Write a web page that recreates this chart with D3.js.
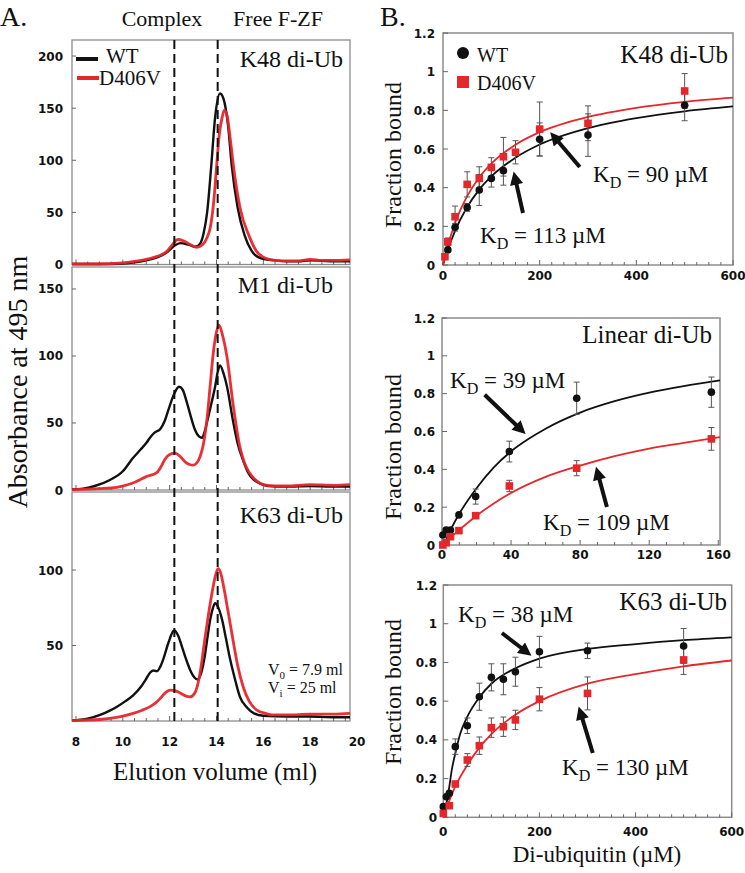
<!DOCTYPE html>
<html><head><meta charset="utf-8">
<script src="https://cdn.jsdelivr.net/npm/d3@7"></script>
<style>body{margin:0;background:#fff}svg{display:block}</style>
</head><body>
<svg id="c" width="745" height="873"></svg>
<script>
// ---------------- DATA: panel A (SEC chromatograms, [ml, absorbance]) ----------------
const volTicks = [8, 10, 12, 14, 16, 18, 20];
const complexVol = 12.2, freeVol = 14.05;
const k48Ticks = [0, 50, 100, 150, 200];
const m1Ticks = [0, 50, 100, 150];
const k63Ticks = [50, 100];

const k48WT = [[7.83,0.5],[9,0.5],[10,1],[10.5,2],[11,4],[11.5,7],[11.9,12],[12.2,18],[12.45,20.5],[12.8,19],[13.1,17],[13.3,20],[13.45,30],[13.6,50],[13.77,93],[13.94,141],[14.15,164],[14.3,159],[14.5,132],[14.65,95],[14.9,55],[15.2,28],[15.5,13],[15.9,6],[16.5,4],[17,3],[17.5,3],[18,4],[18.5,3.5],[19,3],[19.7,3]];
const k48D = [[7.83,0.5],[9,0.5],[10,1.5],[10.5,3],[11,5],[11.5,8],[11.9,13],[12.15,20],[12.35,24],[12.6,22.5],[12.9,19],[13.15,16.5],[13.4,19],[13.6,26],[13.73,35],[13.88,60],[14.0,93],[14.12,125],[14.24,141],[14.33,148],[14.45,143],[14.6,118],[14.75,90],[15.0,55],[15.4,27],[15.7,13],[16.1,6],[16.5,4],[17,3.5],[17.5,3.5],[18,5],[18.5,4],[19,4],[19.7,4.5]];
const m1WT = [[7.83,0.5],[8.3,1],[8.8,3],[9.45,7.5],[10.0,14],[10.44,24],[10.75,30],[11.0,35],[11.2,40],[11.37,43],[11.6,45.5],[11.8,52],[11.95,60],[12.2,72],[12.4,77],[12.55,75],[12.74,65],[12.9,55],[13.08,45],[13.25,40],[13.38,39],[13.5,44],[13.64,54],[13.8,66],[13.94,77],[14.05,88],[14.15,93],[14.3,87],[14.45,77],[14.7,52],[14.9,35],[15.14,22],[15.35,13],[15.6,7.5],[15.9,4.5],[16.2,3],[17,2.5],[18,3],[19,2.5],[19.7,2.5]];
const m1D = [[7.83,0.3],[9,1],[9.75,2],[10.4,5],[11.0,10],[11.45,13],[11.65,18],[11.8,23],[12.0,26.5],[12.23,27.5],[12.45,25],[12.66,21],[12.85,19],[13.0,18.5],[13.15,20],[13.3,25],[13.45,35],[13.6,54],[13.73,78],[13.86,102],[14.0,118],[14.11,123],[14.25,116],[14.45,99],[14.7,65],[15.0,32],[15.2,20],[15.4,13],[15.7,7],[16.0,4],[16.5,3],[17,3],[18,4],[19,3.5],[19.7,4]];
const k63WT = [[7.83,0.3],[8.5,1.5],[9.03,4],[9.4,6.5],[9.75,9.5],[10.1,13],[10.44,17],[10.74,22],[11.0,28],[11.16,32],[11.3,33.5],[11.46,33],[11.6,36],[11.73,41],[11.95,52],[12.19,60],[12.35,57],[12.53,49],[12.7,41],[12.87,34],[13.05,29],[13.2,27.5],[13.35,32],[13.5,43],[13.62,56],[13.73,67],[13.85,75],[13.94,78],[14.05,76],[14.24,67],[14.4,55],[14.58,41],[14.8,27],[15.0,16],[15.3,9],[15.6,5],[16.0,3.5],[17,3],[18,3],[19,2.5],[19.7,2.5]];
const k63D = [[7.83,0.3],[9.03,1],[9.8,2.5],[10.44,5],[10.8,7],[11.16,9.5],[11.4,12],[11.6,15],[11.8,18.5],[12.02,20.5],[12.25,20],[12.45,18.5],[12.7,16.5],[12.87,16],[13.05,18],[13.17,22.5],[13.3,32],[13.5,54],[13.65,70],[13.81,85],[13.95,96],[14.07,101],[14.18,98],[14.28,91],[14.5,72],[14.7,54],[14.9,37],[15.14,22.5],[15.4,13],[15.74,7],[16.1,5],[16.4,4],[17,4],[18,4.5],[19,4.5],[19.7,5]];

// ---------------- DATA: panel B (binding) ----------------
const fracTicks = [0, 0.2, 0.4, 0.6, 0.8, 1, 1.2];
const concTicks600 = [0, 200, 400, 600];
const concTicks160 = [0, 40, 80, 120, 160];

const k48WTConc = [10,25,50,75,100,125,200,300,500];
const k48WTFrac = [0.078,0.195,0.298,0.388,0.448,0.488,0.65,0.672,0.826];
const k48WTErr  = [0.01,0.02,0.02,0.08,0.045,0.075,0.085,0.11,0.08];
const k48DConc = [4,10,25,50,75,100,125,150,200,300,500];
const k48DFrac = [0.043,0.12,0.25,0.417,0.448,0.505,0.56,0.583,0.703,0.733,0.90];
const k48DErr  = [0.01,0.02,0.055,0.065,0.06,0.05,0.1,0.06,0.14,0.09,0.09];
const k48WTFitX = [0,10,25,50,75,100,150,200,300,400,500,600];
const k48WTFitY = [0,0.08,0.177,0.30,0.39,0.458,0.555,0.623,0.708,0.76,0.795,0.82];
const k48DFitX = [0,10,25,50,75,100,150,200,300,400,500,600];
const k48DFitY = [0,0.1,0.217,0.356,0.453,0.524,0.622,0.687,0.766,0.813,0.844,0.866];

const linConc = [0.5,2.4,4.9,9.8,19.5,39,78,156];
const linWTFrac = [0.053,0.079,0.079,0.159,0.256,0.494,0.776,0.808];
const linWTErr  = [0,0,0,0.01,0.04,0.055,0.085,0.08];
const linDFrac = [0.0,0.012,0.044,0.076,0.155,0.312,0.406,0.561];
const linDErr  = [0,0,0,0.01,0.015,0.03,0.04,0.06];
const linWTFitX = [2.5,5,10,20,30,40,50,60,80,100,120,140,161];
const linWTFitY = [0.03,0.08,0.165,0.30,0.41,0.495,0.56,0.615,0.70,0.76,0.805,0.84,0.87];
const linDFitX = [0,5,10,20,30,40,60,80,100,120,140,161];
const linDFitY = [0,0.04,0.08,0.155,0.22,0.275,0.36,0.42,0.47,0.51,0.54,0.57];

const k63WTConc = [0,6.25,12.5,25,50,75,100,125,150,200,300,500];
const k63WTFrac = [0.055,0.106,0.124,0.365,0.473,0.623,0.723,0.713,0.752,0.855,0.86,0.885];
const k63WTErr  = [0,0,0.01,0.04,0.04,0.07,0.07,0.08,0.075,0.08,0.04,0.09];
const k63DConc = [0,12.5,25,50,75,100,125,150,200,300,500];
const k63DFrac = [0.02,0.06,0.172,0.296,0.37,0.463,0.468,0.503,0.61,0.64,0.813];
const k63DErr  = [0,0,0.01,0.033,0.045,0.05,0.05,0.05,0.06,0.085,0.075];
const k63WTFitX = [3,8,12,18,25,35,50,75,100,150,200,300,400,500,600];
const k63WTFitY = [0.03,0.09,0.15,0.25,0.33,0.43,0.52,0.62,0.69,0.77,0.82,0.87,0.895,0.915,0.93];
const k63DFitX = [0,10,25,50,75,100,150,200,300,400,500,600];
const k63DFitY = [0,0.07,0.16,0.27,0.36,0.43,0.53,0.60,0.69,0.74,0.78,0.81];

// ---------------- DRAWING ----------------
const svg = d3.select("#c");
const serif = "'Liberation Serif','Times New Roman',Times,serif";
const tickFont = "'DejaVu Sans','Liberation Sans',Arial,sans-serif";
const BLACK = "#111", RED = "#e5262b", FRAME = "#8c8c8c";

function txt(x, y, s, size, anchor, fam, weight) {
  return svg.append("text").attr("x", x).attr("y", y).text(s)
    .attr("font-size", size).attr("font-family", fam || serif)
    .attr("text-anchor", anchor || "start").attr("font-weight", weight || "normal").attr("fill", "#111");
}
function kdLabel(x, y, val, size) {
  const t = svg.append("text").attr("x", x).attr("y", y).attr("font-family", serif)
    .attr("font-size", size).attr("fill", "#111");
  t.append("tspan").text("K");
  t.append("tspan").text("D").attr("font-size", size * 0.7).attr("dy", size * 0.25);
  t.append("tspan").text(" = " + val + " \u00B5M").attr("dy", -size * 0.25);
}

// arrowhead marker
const defs = svg.append("defs");
defs.append("marker").attr("id", "ah").attr("viewBox", "0 0 10 10").attr("refX", 2).attr("refY", 5)
  .attr("markerWidth", 3.8).attr("markerHeight", 3.3).attr("orient", "auto")
  .append("path").attr("d", "M0,0 L10,5 L0,10 z").attr("fill", "#111");

// ===== Panel A =====
txt(0, 26, "A.", 28);
txt(162, 26, "Complex", 22, "middle");
txt(278, 26, "Free F-ZF", 22, "middle");

const xA = d3.scaleLinear().domain([7.83, 19.7]).range([72, 350]);
const panelsA = [
  { wt: k48WT, d: k48D, ticks: k48Ticks, top: 40, bottom: 264.5, max: 215.4, label: "K48 di-Ub", lx: 343, ly: 67 },
  { wt: m1WT, d: m1D, ticks: m1Ticks, top: 267, bottom: 490, max: 166.4, label: "M1 di-Ub", lx: 333, ly: 293 },
  { wt: k63WT, d: k63D, ticks: k63Ticks, top: 492, bottom: 721, max: 151.7, label: "K63 di-Ub", lx: 343, ly: 523 }
];
panelsA.forEach(p => {
  const y = d3.scaleLinear().domain([0, p.max]).range([p.bottom, p.top]);
  svg.append("rect").attr("x", xA.range()[0]).attr("y", p.top)
    .attr("width", xA.range()[1] - xA.range()[0]).attr("height", p.bottom - p.top)
    .attr("fill", "none").attr("stroke", FRAME).attr("stroke-width", 1.3);
  d3.range(8, 19.75, 0.5).forEach(v => {
    svg.append("line").attr("x1", xA(v)).attr("x2", xA(v)).attr("y1", p.bottom)
      .attr("y2", p.bottom - (v % 2 === 0 ? 5 : 3)).attr("stroke", "#666").attr("stroke-width", 1);
  });
  p.ticks.forEach(t => {
    txt(63, y(t) + 4.5, String(t), 12, "end", tickFont, "bold");
    svg.append("line").attr("x1", 72).attr("x2", 76).attr("y1", y(t)).attr("y2", y(t)).attr("stroke", "#666");
  });
  const ln = d3.line().x(d => xA(d[0])).y(d => y(d[1])).curve(d3.curveMonotoneX);
  svg.append("path").datum(p.wt).attr("d", ln).attr("fill", "none").attr("stroke", BLACK).attr("stroke-width", 2.4);
  svg.append("path").datum(p.d).attr("d", ln).attr("fill", "none").attr("stroke", RED).attr("stroke-width", 2.8).attr("stroke-opacity", 0.95);
  txt(p.lx, p.ly, p.label, 24, "end");
});
[complexVol, freeVol].forEach(v => {
  svg.append("line").attr("x1", xA(v)).attr("x2", xA(v)).attr("y1", 40).attr("y2", 721)
    .attr("stroke", "#111").attr("stroke-width", 2).attr("stroke-dasharray", "9,5");
});
svg.append("line").attr("x1", 76).attr("x2", 98).attr("y1", 59).attr("y2", 59).attr("stroke", BLACK).attr("stroke-width", 4);
txt(106, 63, "WT", 21);
svg.append("line").attr("x1", 77).attr("x2", 99).attr("y1", 78).attr("y2", 78).attr("stroke", RED).attr("stroke-width", 4);
txt(99, 85, "D406V", 21);
volTicks.forEach(v => txt(xA(v), 746, String(v), 12, "middle", tickFont, "bold"));
txt(215, 780, "Elution volume (ml)", 25, "middle");
svg.append("text").attr("transform", "translate(27,382) rotate(-90)").attr("text-anchor", "middle")
  .attr("font-family", serif).attr("font-size", 28).attr("fill", "#111").text("Absorbance at 495 nm");
(function () {
  const t = svg.append("text").attr("x", 268).attr("y", 675).attr("font-family", serif).attr("font-size", 16).attr("fill", "#111");
  t.append("tspan").text("V"); t.append("tspan").text("0").attr("font-size", 11).attr("dy", 4);
  t.append("tspan").text(" = 7.9 ml").attr("dy", -4);
  const u = svg.append("text").attr("x", 268).attr("y", 693).attr("font-family", serif).attr("font-size", 16).attr("fill", "#111");
  u.append("tspan").text("V"); u.append("tspan").text("i").attr("font-size", 11).attr("dy", 4);
  u.append("tspan").text(" = 25 ml").attr("dy", -4);
})();

// ===== Panel B =====
txt(380, 26, "B.", 28);

function bindPanel(o) {
  const x = d3.scaleLinear().domain(o.xdom).range(o.xr);
  const y = d3.scaleLinear().domain([0, 1.2]).range(o.yr);
  svg.append("rect").attr("x", o.xr[0]).attr("y", o.yr[1]).attr("width", o.xr[1] - o.xr[0])
    .attr("height", o.yr[0] - o.yr[1]).attr("fill", "none").attr("stroke", FRAME).attr("stroke-width", 1.5);
  d3.range(0, o.xdom[1] + 1e-6, o.minor).forEach(v => {
    const major = o.xticks.includes(v);
    svg.append("line").attr("x1", x(v)).attr("x2", x(v)).attr("y1", o.yr[0]).attr("y2", o.yr[0] - (major ? 5 : 3))
      .attr("stroke", "#666");
  });
  o.xticks.forEach(v => txt(x(v), o.xlabY, String(v), 12, "middle", tickFont, "bold"));
  fracTicks.forEach(v => {
    svg.append("line").attr("x1", o.xr[0]).attr("x2", o.xr[0] + 5).attr("y1", y(v)).attr("y2", y(v)).attr("stroke", "#666");
    txt(o.ylabX, y(v) + 4.5, String(v), 12, "end", tickFont, "bold");
  });
  svg.append("text").attr("transform", `translate(401,${o.ycap}) rotate(-90)`).attr("text-anchor", "middle")
    .attr("font-family", serif).attr("font-size", 24).attr("fill", "#111").text("Fraction bound");
  const ln = d3.line().x(d => x(d[0])).y(d => y(d[1])).curve(d3.curveMonotoneX);
  svg.append("path").datum(d3.zip(o.wtFitX, o.wtFitY)).attr("d", ln).attr("fill", "none").attr("stroke", BLACK).attr("stroke-width", 1.8);
  svg.append("path").datum(d3.zip(o.dFitX, o.dFitY)).attr("d", ln).attr("fill", "none").attr("stroke", RED).attr("stroke-width", 1.8);
  function err(cs, fs, es) {
    cs.forEach((c, i) => {
      if (es[i] < 0.005) return;
      const g = svg.append("g").attr("stroke", "#555").attr("stroke-width", 1);
      g.append("line").attr("x1", x(c)).attr("x2", x(c)).attr("y1", y(fs[i] - es[i])).attr("y2", y(fs[i] + es[i]));
      g.append("line").attr("x1", x(c) - 3).attr("x2", x(c) + 3).attr("y1", y(fs[i] - es[i])).attr("y2", y(fs[i] - es[i]));
      g.append("line").attr("x1", x(c) - 3).attr("x2", x(c) + 3).attr("y1", y(fs[i] + es[i])).attr("y2", y(fs[i] + es[i]));
    });
  }
  err(o.wtC, o.wtF, o.wtE);
  err(o.dC, o.dF, o.dE);
  o.wtC.forEach((c, i) => svg.append("circle").attr("cx", x(c)).attr("cy", y(o.wtF[i])).attr("r", 3.8).attr("fill", BLACK));
  o.dC.forEach((c, i) => svg.append("rect").attr("x", x(c) - 3.8).attr("y", y(o.dF[i]) - 3.8).attr("width", 7.6).attr("height", 7.6).attr("fill", RED));
  txt(o.tx, o.ty, o.title, 25, "end");
  o.arrows.forEach(a => {
    svg.append("line").attr("x1", x(a[0])).attr("y1", y(a[1])).attr("x2", x(a[2])).attr("y2", y(a[3]))
      .attr("stroke", "#111").attr("stroke-width", 4).attr("marker-end", "url(#ah)");
  });
  o.kds.forEach(k => kdLabel(k[0], k[1], k[2], 23));
}

bindPanel({
  xdom: [0, 600], xr: [443, 733], yr: [265, 33], minor: 25, xticks: concTicks600, xlabY: 280, ylabX: 435, ycap: 155,
  wtC: k48WTConc, wtF: k48WTFrac, wtE: k48WTErr, dC: k48DConc, dF: k48DFrac, dE: k48DErr,
  wtFitX: k48WTFitX, wtFitY: k48WTFitY, dFitX: k48DFitX, dFitY: k48DFitY,
  title: "K48 di-Ub", tx: 728, ty: 63,
  arrows: [[283, 0.507, 236, 0.645], [165.5, 0.269, 151, 0.43]],
  kds: [[593, 182, "90"], [480, 243, "113"]]
});
bindPanel({
  xdom: [0, 161], xr: [442, 720], yr: [545, 318], minor: 10, xticks: concTicks160, xlabY: 559, ylabX: 435, ycap: 447,
  wtC: linConc, wtF: linWTFrac, wtE: linWTErr, dC: linConc, dF: linDFrac, dE: linDErr,
  wtFitX: linWTFitX, wtFitY: linWTFitY, dFitX: linDFitX, dFitY: linDFitY,
  title: "Linear di-Ub", tx: 712, ty: 343,
  arrows: [[24.7, 0.794, 44, 0.625], [95.5, 0.201, 90.8, 0.36]],
  kds: [[450, 388, "39"], [543, 530, "109"]]
});
bindPanel({
  xdom: [0, 600], xr: [443.3, 731.7], yr: [817.3, 585], minor: 25, xticks: concTicks600, xlabY: 836, ylabX: 437, ycap: 692,
  wtC: k63WTConc, wtF: k63WTFrac, wtE: k63WTErr, dC: k63DConc, dF: k63DFrac, dE: k63DErr,
  wtFitX: k63WTFitX, wtFitY: k63WTFitY, dFitX: k63DFitX, dFitY: k63DFitY,
  title: "K63 di-Ub", tx: 727, ty: 610,
  arrows: [[122, 0.952, 166, 0.868], [311, 0.332, 288, 0.52]],
  kds: [[458, 622, "38"], [562, 775, "130"]]
});
svg.append("circle").attr("cx", 463).attr("cy", 53).attr("r", 6).attr("fill", BLACK);
txt(477, 62, "WT", 20);
svg.append("rect").attr("x", 457).attr("y", 76).attr("width", 12).attr("height", 12).attr("fill", RED);
txt(477, 90, "D406V", 20);
txt(597, 862, "Di-ubiquitin (\u00B5M)", 23, "middle");
</script>
</body></html>
